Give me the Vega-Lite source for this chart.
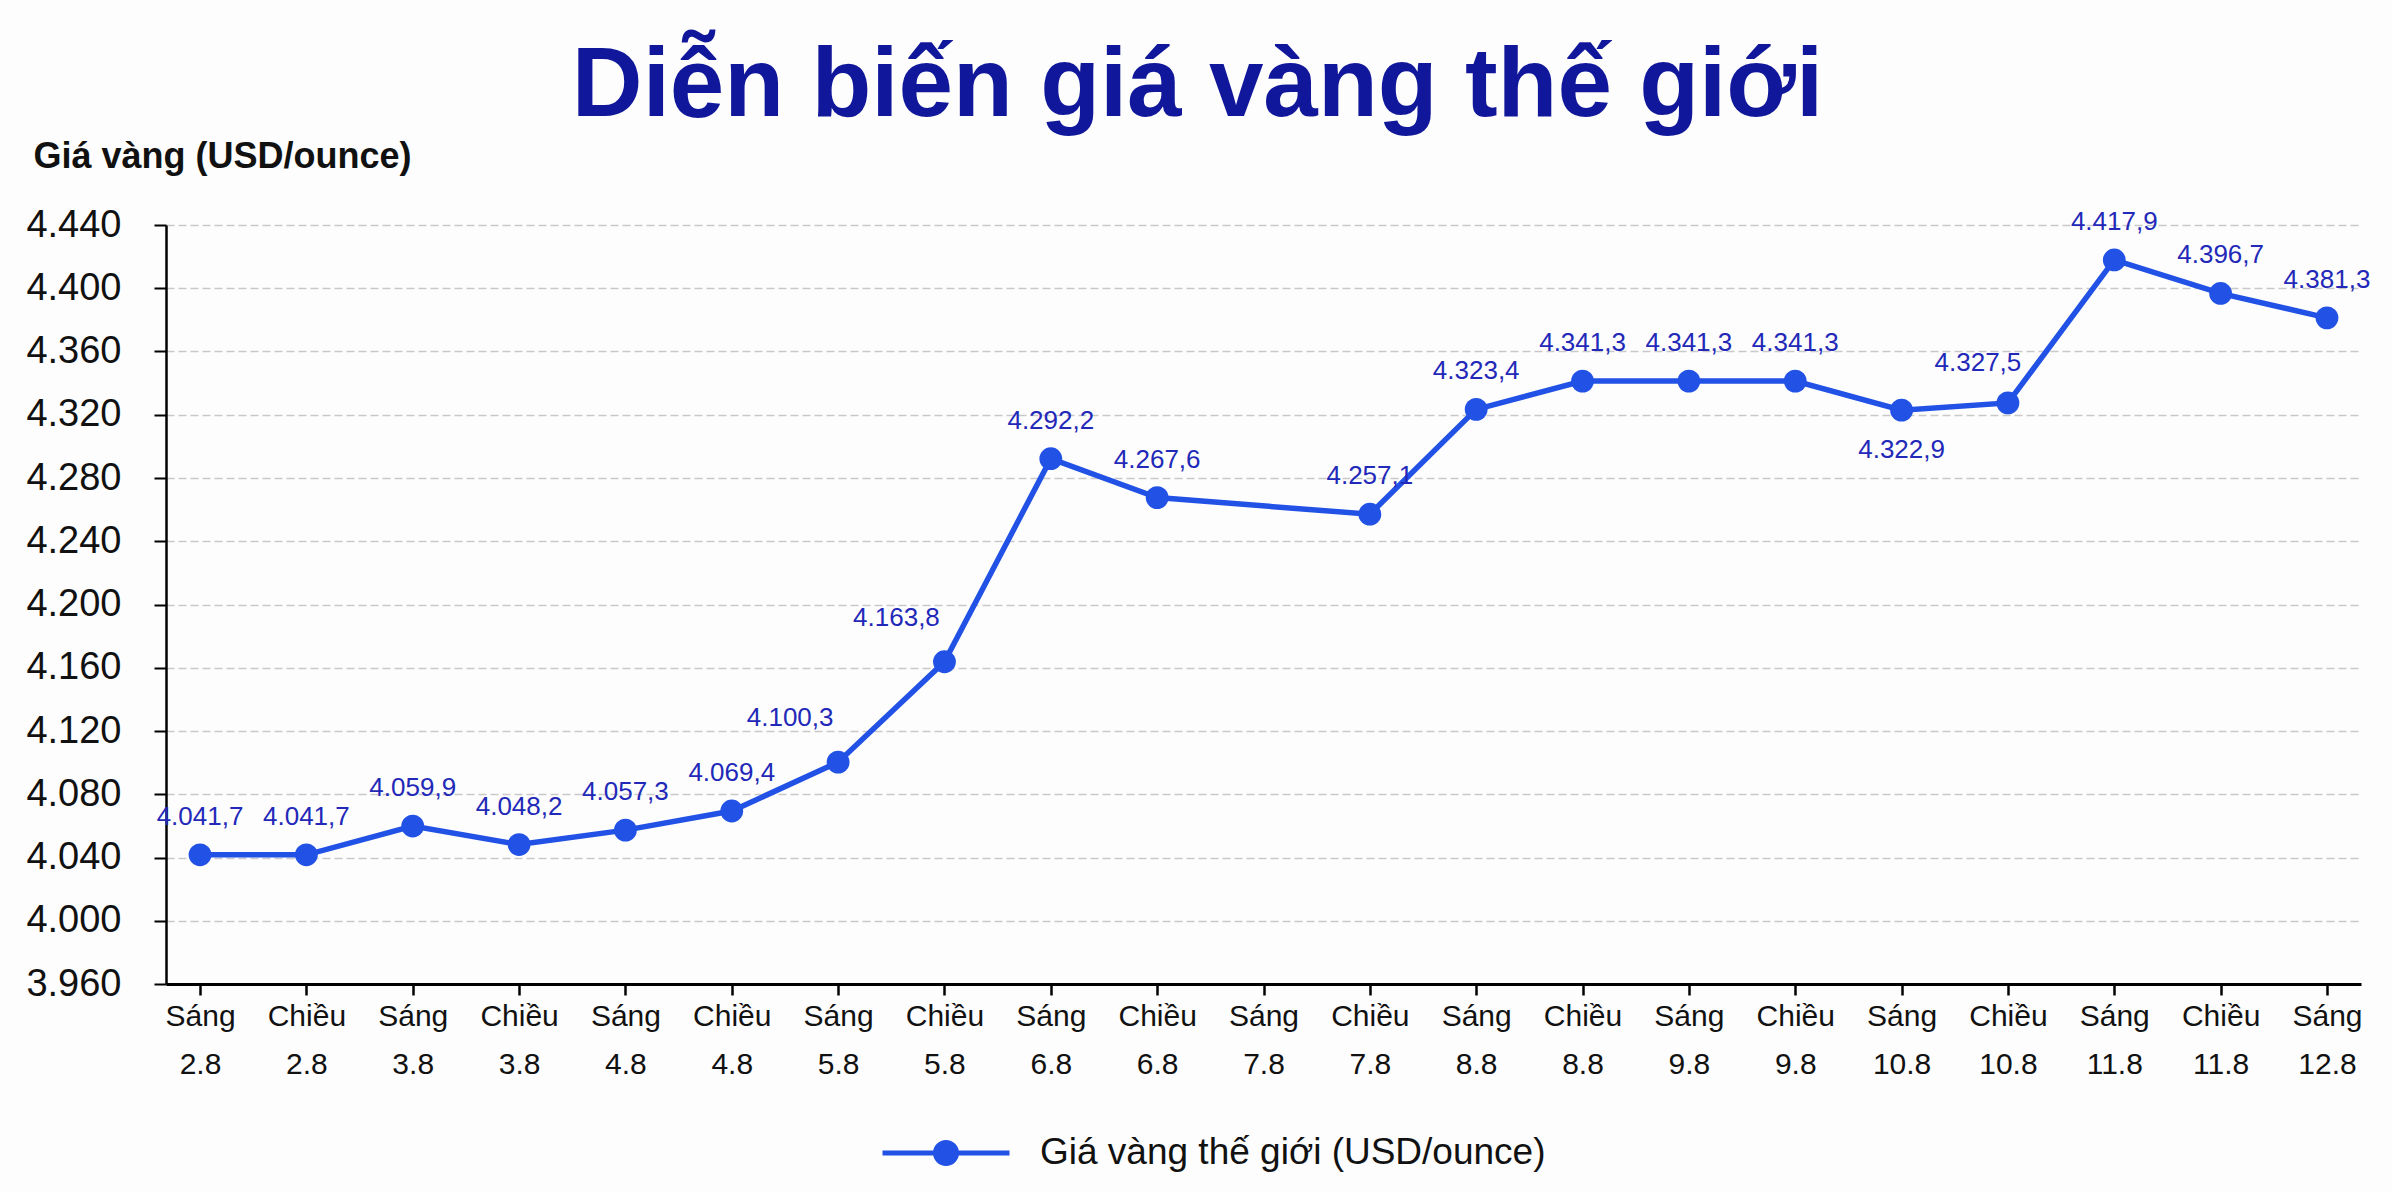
{
  "$schema": "https://vega.github.io/schema/vega-lite/v6.json",
  "width": 2195,
  "height": 759,
  "autosize": {"type": "none"},
  "padding": {"left": 166, "top": 225, "right": 31, "bottom": 208},
  "background": "#fdfdfd",
  "title": {
    "text": "Diễn biến giá vàng thế giới",
    "font": "Liberation Sans",
    "fontSize": 98,
    "fontWeight": "bold",
    "color": "#11179a",
    "anchor": "middle",
    "frame": "group",
    "dx": -66,
    "dy": 92,
    "baseline": "alphabetic",
    "offset": 16
  },
  "data": {
    "values": [
      {"phien": "Sáng 2.8", "gia": 4041.7, "nhan": "4.041,7"},
      {"phien": "Chiều 2.8", "gia": 4041.7, "nhan": "4.041,7"},
      {"phien": "Sáng 3.8", "gia": 4059.9, "nhan": "4.059,9"},
      {"phien": "Chiều 3.8", "gia": 4048.2, "nhan": "4.048,2"},
      {"phien": "Sáng 4.8", "gia": 4057.3, "nhan": "4.057,3"},
      {"phien": "Chiều 4.8", "gia": 4069.4, "nhan": "4.069,4"},
      {"phien": "Sáng 5.8", "gia": 4100.3, "nhan": "4.100,3"},
      {"phien": "Chiều 5.8", "gia": 4163.8, "nhan": "4.163,8"},
      {"phien": "Sáng 6.8", "gia": 4292.2, "nhan": "4.292,2"},
      {"phien": "Chiều 6.8", "gia": 4267.6, "nhan": "4.267,6"},
      {"phien": "Chiều 7.8", "gia": 4257.1, "nhan": "4.257,1"},
      {"phien": "Sáng 8.8", "gia": 4323.4, "nhan": "4.323,4"},
      {"phien": "Chiều 8.8", "gia": 4341.3, "nhan": "4.341,3"},
      {"phien": "Sáng 9.8", "gia": 4341.3, "nhan": "4.341,3"},
      {"phien": "Chiều 9.8", "gia": 4341.3, "nhan": "4.341,3"},
      {"phien": "Sáng 10.8", "gia": 4322.9, "nhan": "4.322,9"},
      {"phien": "Chiều 10.8", "gia": 4327.5, "nhan": "4.327,5"},
      {"phien": "Sáng 11.8", "gia": 4417.9, "nhan": "4.417,9"},
      {"phien": "Chiều 11.8", "gia": 4396.7, "nhan": "4.396,7"},
      {"phien": "Sáng 12.8", "gia": 4381.3, "nhan": "4.381,3"}
    ]
  },
  "encoding": {
    "x": {
      "field": "phien",
      "type": "ordinal",
      "sort": null,
      "scale": {
        "type": "point",
        "padding": 0.32,
        "domain": ["Sáng 2.8", "Chiều 2.8", "Sáng 3.8", "Chiều 3.8", "Sáng 4.8", "Chiều 4.8", "Sáng 5.8", "Chiều 5.8", "Sáng 6.8", "Chiều 6.8", "Sáng 7.8", "Chiều 7.8", "Sáng 8.8", "Chiều 8.8", "Sáng 9.8", "Chiều 9.8", "Sáng 10.8", "Chiều 10.8", "Sáng 11.8", "Chiều 11.8", "Sáng 12.8"]
      },
      "axis": {
        "title": null,
        "labelExpr": "split(datum.label, ' ')",
        "labelAngle": 0,
        "labelFont": "Liberation Sans",
        "labelFontSize": 30,
        "labelLineHeight": 48,
        "labelColor": "#111111",
        "labelPadding": 6,
        "tickSize": 11,
        "tickWidth": 2.5,
        "tickColor": "#000000",
        "domainColor": "#000000",
        "domainWidth": 3,
        "grid": false
      }
    },
    "y": {
      "field": "gia",
      "type": "quantitative",
      "scale": {"domain": [3960, 4440], "zero": false, "nice": false},
      "axis": {
        "values": [3960, 4000, 4040, 4080, 4120, 4160, 4200, 4240, 4280, 4320, 4360, 4400, 4440],
        "labelExpr": "replace(format(datum.value, ','), ',', '.')",
        "labelFont": "Liberation Sans",
        "labelFontSize": 38,
        "labelColor": "#111111",
        "labelPadding": 33,
        "tickSize": 12,
        "tickWidth": 2,
        "tickColor": "#000000",
        "domainColor": "#000000",
        "domainWidth": 2.5,
        "grid": true,
        "gridColor": "#c9c9c9",
        "gridDash": [8, 4],
        "gridWidth": 1.5,
        "title": "Giá vàng (USD/ounce)",
        "titleAngle": 0,
        "titleAlign": "left",
        "titleBaseline": "alphabetic",
        "titleX": -133,
        "titleY": -58,
        "titleFont": "Liberation Sans",
        "titleFontSize": 36,
        "titleFontWeight": "bold",
        "titleColor": "#111111"
      }
    }
  },
  "layer": [
    {
      "mark": {"type": "line", "strokeWidth": 5.5},
      "encoding": {
        "color": {
          "datum": "Giá vàng thế giới (USD/ounce)",
          "scale": {"range": ["#2251e6"]},
          "legend": {
            "orient": "none",
            "legendX": 714,
            "legendY": 862,
            "title": null,
            "labelFont": "Liberation Sans",
            "labelFontSize": 37,
            "labelColor": "#111111",
            "labelOffset": 28,
            "labelLimit": 0,
            "symbolType": "M-1,0L1,0M0.165,0A0.165,0.165,0,1,1,-0.165,0A0.165,0.165,0,1,1,0.165,0Z",
            "symbolSize": 16129,
            "symbolStrokeWidth": 5,
            "symbolFillColor": "#2251e6",
            "symbolStrokeColor": "#2251e6",
            "symbolOpacity": 1,
            "encode": {
              "symbols": {
                "update": {
                  "fill": {"value": "#2251e6"},
                  "stroke": {"value": "#2251e6"},
                  "strokeWidth": {"value": 5},
                  "opacity": {"value": 1}
                }
              }
            }
          }
        }
      }
    },
    {
      "mark": {"type": "point", "filled": true, "size": 520, "color": "#2251e6", "opacity": 1}
    },
    {
      "transform": [{"filter": "datum.phien != 'Sáng 5.8' && datum.phien != 'Chiều 5.8' && datum.phien != 'Chiều 10.8' && datum.phien != 'Sáng 10.8'"}],
      "mark": {"type": "text", "font": "Liberation Sans", "fontSize": 26, "color": "#2228b8", "align": "center", "baseline": "alphabetic", "dy": -30},
      "encoding": {"text": {"field": "nhan"}}
    },
    {
      "transform": [{"filter": "datum.phien == 'Sáng 5.8' || datum.phien == 'Chiều 5.8'"}],
      "mark": {"type": "text", "font": "Liberation Sans", "fontSize": 26, "color": "#2228b8", "align": "center", "baseline": "alphabetic", "dx": -48, "dy": -36},
      "encoding": {"text": {"field": "nhan"}}
    },
    {
      "transform": [{"filter": "datum.phien == 'Chiều 10.8'"}],
      "mark": {"type": "text", "font": "Liberation Sans", "fontSize": 26, "color": "#2228b8", "align": "center", "baseline": "alphabetic", "dx": -30, "dy": -32},
      "encoding": {"text": {"field": "nhan"}}
    },
    {
      "transform": [{"filter": "datum.phien == 'Sáng 10.8'"}],
      "mark": {"type": "text", "font": "Liberation Sans", "fontSize": 26, "color": "#2228b8", "align": "center", "baseline": "alphabetic", "dy": 48},
      "encoding": {"text": {"field": "nhan"}}
    }
  ],
  "config": {"view": {"stroke": null}}
}
